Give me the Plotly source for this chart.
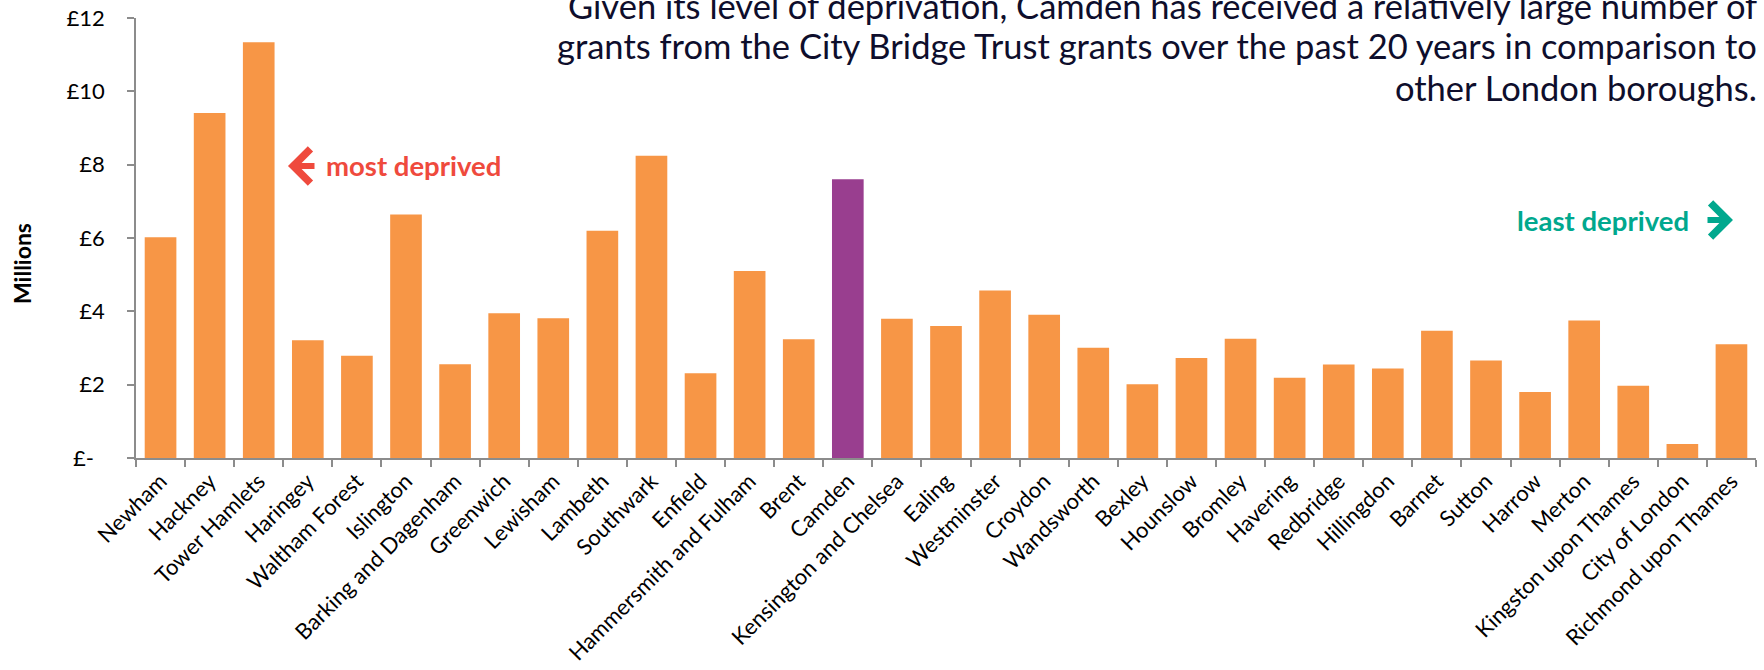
import plotly.graph_objects as go

# City Bridge Trust grants by London borough (GBP millions), ordered from most to least deprived
boroughs = [
    "Newham", "Hackney", "Tower Hamlets", "Haringey", "Waltham Forest", "Islington",
    "Barking and Dagenham", "Greenwich", "Lewisham", "Lambeth", "Southwark", "Enfield",
    "Hammersmith and Fulham", "Brent", "Camden", "Kensington and Chelsea", "Ealing",
    "Westminster", "Croydon", "Wandsworth", "Bexley", "Hounslow", "Bromley", "Havering",
    "Redbridge", "Hillingdon", "Barnet", "Sutton", "Harrow", "Merton",
    "Kingston upon Thames", "City of London", "Richmond upon Thames",
]
grants_millions = [
    6.02, 9.41, 11.34, 3.21, 2.79, 6.64,
    2.56, 3.95, 3.81, 6.20, 8.24, 2.31,
    5.10, 3.24, 7.60, 3.80, 3.60,
    4.57, 3.91, 3.01, 2.01, 2.73, 3.25, 2.19,
    2.55, 2.44, 3.47, 2.66, 1.80, 3.75,
    1.97, 0.38, 3.10,
]
highlight = "Camden"
y_tick_values = [0, 2, 4, 6, 8, 10, 12]
y_tick_labels = ["£-\u2002", "£2", "£4", "£6", "£8", "£10", "£12"]

headline_lines = [
    "Given its level of deprivation, Camden has received a relatively large number of",
    "grants from the City Bridge Trust grants over the past 20 years in comparison to",
    "other London boroughs.",
]

ORANGE = "#F79646"
PURPLE = "#993E8F"
RED = "#EF4A3D"
GREEN = "#00A88E"
NAVY = "#0E0E2C"
AXIS_GREY = "#8C8C8C"
FONT = "Lato"

W, H = 1764, 670
ML, MR, MT, MB = 136, 8, 18, 212
PW, PH = W - ML - MR, H - MT - MB


def px_x(px):
    """Figure pixel column -> paper x."""
    return (px - ML) / PW


def px_y(py):
    """Figure pixel row -> paper y."""
    return (H - MB - py) / PH


bar_colors = [PURPLE if b == highlight else ORANGE for b in boroughs]

fig = go.Figure(
    go.Bar(
        x=boroughs,
        y=grants_millions,
        marker=dict(color=bar_colors, line=dict(width=0)),
        hoverinfo="x+y",
    )
)

fig.update_layout(
    width=W,
    height=H,
    margin=dict(l=ML, r=MR, t=MT, b=MB, pad=0),
    paper_bgcolor="white",
    plot_bgcolor="white",
    bargap=0.355,
    showlegend=False,
    font=dict(family=FONT, color="#000000"),
)

fig.update_xaxes(
    type="category",
    automargin=False,
    tickangle=-45,
    tickfont=dict(family=FONT, size=22, color="#000000"),
    showline=True,
    linecolor=AXIS_GREY,
    linewidth=1.5,
    ticks="outside",
    tickson="boundaries",
    ticklen=7,
    tickcolor=AXIS_GREY,
    tickwidth=1.5,
    showgrid=False,
)

fig.update_yaxes(
    range=[0, 12],
    automargin=False,
    tickvals=y_tick_values,
    ticktext=y_tick_labels,
    tickfont=dict(family=FONT, size=22, color="#000000"),
    showline=True,
    linecolor=AXIS_GREY,
    linewidth=1.5,
    ticks="outside",
    ticklen=7,
    tickcolor=AXIS_GREY,
    tickwidth=1.5,
    ticklabelstandoff=18,
    showgrid=False,
    zeroline=False,
)

annotations = []

# headline, one annotation per line so the line spacing can be set exactly
for text, row in zip(headline_lines, [5, 46, 87]):
    annotations.append(dict(
        text=text,
        xref="paper", yref="paper",
        x=px_x(1759), y=px_y(row),
        xanchor="right", yanchor="middle",
        showarrow=False,
        font=dict(family=FONT, size=34.5, color=NAVY),
    ))

# y-axis title
annotations.append(dict(
    text="<b>Millions</b>",
    xref="paper", yref="paper",
    x=px_x(22), y=px_y(263),
    xanchor="center", yanchor="middle",
    textangle=-90,
    showarrow=False,
    font=dict(family=FONT, size=23, color="#000000"),
))

# deprivation direction labels with arrows
annotations += [
    dict(
        text="<b>most deprived</b>",
        xref="paper", yref="paper",
        x=px_x(324), y=px_y(165),
        xanchor="left", yanchor="middle",
        showarrow=False,
        font=dict(family=FONT, size=27.5, color=RED),
    ),
    dict(
        text="",
        xref="paper", yref="paper",
        x=px_x(288), y=px_y(166),
        ax=28, ay=0,
        showarrow=True, arrowhead=4, arrowsize=1.1, arrowwidth=6,
        arrowcolor=RED,
    ),
    dict(
        text="<b>least deprived</b>",
        xref="paper", yref="paper",
        x=px_x(1691), y=px_y(220),
        xanchor="right", yanchor="middle",
        showarrow=False,
        font=dict(family=FONT, size=27.5, color=GREEN),
    ),
    dict(
        text="",
        xref="paper", yref="paper",
        x=px_x(1733), y=px_y(220),
        ax=-27, ay=0,
        showarrow=True, arrowhead=4, arrowsize=1.1, arrowwidth=6,
        arrowcolor=GREEN,
    ),
]
fig.update_layout(annotations=annotations)

fig.write_html("out.html")
